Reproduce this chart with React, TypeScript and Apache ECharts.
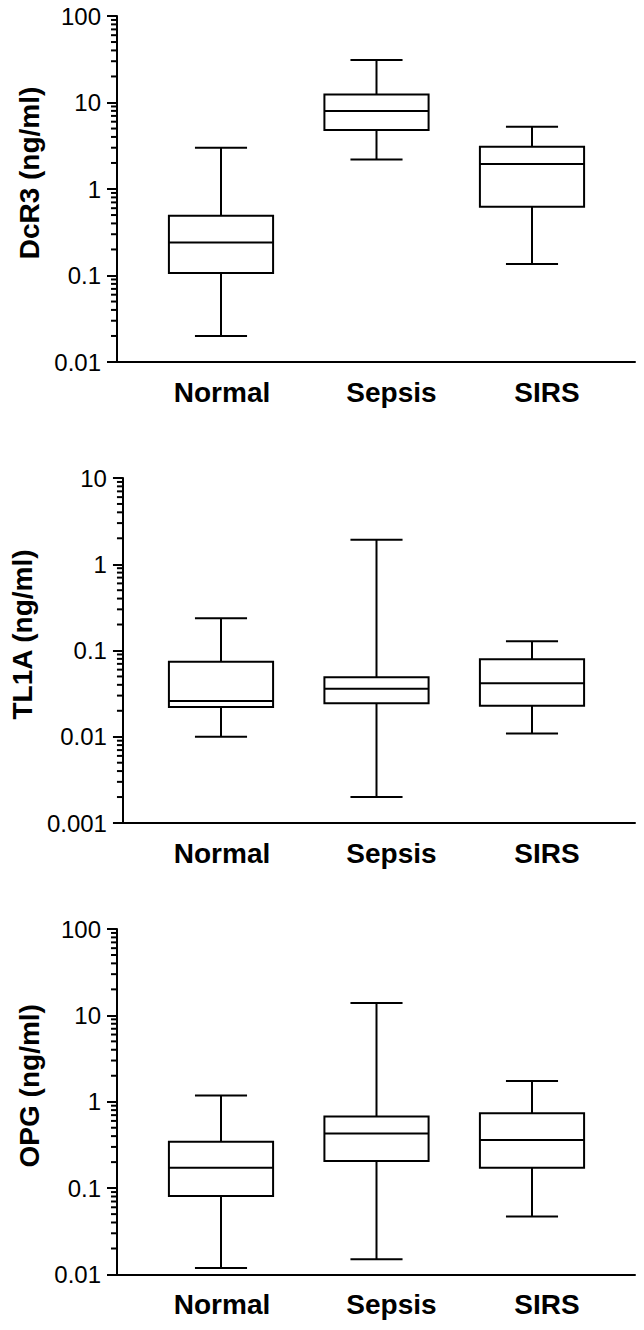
import React, { useEffect, useRef } from 'react';
import * as echarts from 'echarts';

// ---------------- data ----------------
const categories = ['Normal', 'Sepsis', 'SIRS'];

// box statistics: [min, Q1, median, Q3, max]  (ng/ml)
const dcr3Normal = [0.02, 0.107, 0.24, 0.49, 3.0];
const dcr3Sepsis = [2.2, 4.8, 8.0, 12.4, 31];
const dcr3Sirs = [0.136, 0.625, 1.95, 3.08, 5.25];

const tl1aNormal = [0.01, 0.0222, 0.026, 0.074, 0.237];
const tl1aSepsis = [0.002, 0.0244, 0.036, 0.049, 1.92];
const tl1aSirs = [0.0109, 0.0229, 0.0416, 0.079, 0.128];

const opgNormal = [0.0119, 0.081, 0.172, 0.345, 1.18];
const opgSepsis = [0.015, 0.206, 0.43, 0.673, 13.9];
const opgSirs = [0.047, 0.172, 0.36, 0.736, 1.74];

const dcr3Ticks = ['0.01', '0.1', '1', '10', '100'];
const tl1aTicks = ['0.001', '0.01', '0.1', '1', '10'];
const opgTicks = ['0.01', '0.1', '1', '10', '100'];

const titles = ['DcR3 (ng/ml)', 'TL1A (ng/ml)', 'OPG (ng/ml)'];

// ---------------- layout ----------------
const FONT = '"Liberation Sans", Arial, Helvetica, sans-serif';
const panelLayout = [
  { top: 16, height: 346, nameGap: 73 },
  { top: 478, height: 345, nameGap: 82 },
  { top: 929, height: 345.5, nameGap: 66 },
];
const AXIS_LEFT = 117;
const AXIS_WIDTH = 518;
const BOX_LEFT = 143.25;
const BOX_WIDTH_AREA = 466.5;
const labelShift = [1, 15, 15];

const panels = [
  { title: titles[0], ticks: dcr3Ticks, stats: [dcr3Normal, dcr3Sepsis, dcr3Sirs] },
  { title: titles[1], ticks: tl1aTicks, stats: [tl1aNormal, tl1aSepsis, tl1aSirs] },
  { title: titles[2], ticks: opgTicks, stats: [opgNormal, opgSepsis, opgSirs] },
];

function minorTickValues(ticks: string[]): number[] {
  const out: number[] = [];
  for (let k = 0; k < ticks.length - 1; k++) {
    const base = Number(ticks[k]);
    for (let m = 2; m <= 9; m++) out.push(Number((base * m).toPrecision(3)));
  }
  return out;
}

const lineStyle = { stroke: '#000', lineWidth: 2, fill: 'none' };

function boxRenderItem(params: any, api: any) {
  const x = api.value(0);
  const lo = api.coord([x, api.value(1)]);
  const q1 = api.coord([x, api.value(2)]);
  const med = api.coord([x, api.value(3)]);
  const q3 = api.coord([x, api.value(4)]);
  const hi = api.coord([x, api.value(5)]);
  const band = api.size([1, 0], [x, 1])[0];
  const bw = band * 0.67;
  const cw = band * 0.335;
  const cx = lo[0];
  return {
    type: 'group',
    children: [
      { type: 'line', shape: { x1: cx, y1: hi[1], x2: cx, y2: q3[1] }, style: lineStyle },
      { type: 'line', shape: { x1: cx, y1: q1[1], x2: cx, y2: lo[1] }, style: lineStyle },
      { type: 'line', shape: { x1: cx - cw / 2, y1: hi[1], x2: cx + cw / 2, y2: hi[1] }, style: lineStyle },
      { type: 'line', shape: { x1: cx - cw / 2, y1: lo[1], x2: cx + cw / 2, y2: lo[1] }, style: lineStyle },
      {
        type: 'rect',
        shape: { x: cx - bw / 2, y: q3[1], width: bw, height: q1[1] - q3[1] },
        style: { stroke: '#000', lineWidth: 2, fill: '#fff' },
      },
      { type: 'line', shape: { x1: cx - bw / 2, y1: med[1], x2: cx + bw / 2, y2: med[1] }, style: lineStyle },
    ],
  };
}

function minorRenderItem(params: any, api: any) {
  const p = api.coord([0, api.value(1)]);
  return {
    type: 'line',
    shape: { x1: p[0] - 6, y1: p[1], x2: p[0], y2: p[1] },
    style: { stroke: '#000', lineWidth: 2 },
  };
}

function buildOption() {
  const grid: any[] = [];
  const xAxis: any[] = [];
  const yAxis: any[] = [];
  const series: any[] = [];
  const rich: any = {};
  labelShift.forEach((s, i) => {
    rich['c' + i] = {
      fontSize: 28,
      fontWeight: 'bold',
      color: '#000',
      fontFamily: FONT,
      padding: [0, 0, 0, s * 2],
    };
  });

  panels.forEach((p, i) => {
    const L = panelLayout[i];
    const yMin = Number(p.ticks[0]);
    const yMax = Number(p.ticks[p.ticks.length - 1]);
    const ga = 2 * i;
    const gb = 2 * i + 1;
    grid.push({ left: AXIS_LEFT, top: L.top, width: AXIS_WIDTH, height: L.height });
    grid.push({ left: BOX_LEFT, top: L.top, width: BOX_WIDTH_AREA, height: L.height });

    xAxis.push({
      type: 'value',
      gridIndex: ga,
      min: 0,
      max: 1,
      axisLine: { show: true, onZero: false, lineStyle: { color: '#000', width: 2 } },
      axisTick: { show: false },
      axisLabel: { show: false },
      splitLine: { show: false },
    });
    xAxis.push({
      type: 'category',
      gridIndex: gb,
      data: categories,
      axisLine: { show: false, onZero: false },
      axisTick: { show: false },
      splitLine: { show: false },
      axisLabel: {
        interval: 0,
        hideOverlap: false,
        margin: 16,
        fontSize: 28,
        fontWeight: 'bold',
        color: '#000',
        fontFamily: FONT,
        formatter: (v: string, idx: number) => `{c${idx}|${v}}`,
        rich,
      },
    });

    yAxis.push({
      type: 'log',
      logBase: 10,
      gridIndex: ga,
      min: yMin,
      max: yMax,
      name: p.title,
      nameLocation: 'middle',
      nameGap: L.nameGap,
      nameRotate: 90,
      nameTextStyle: {
        fontSize: 28,
        fontWeight: 'bold',
        color: '#000',
        fontFamily: FONT,
        padding: [0, 0, 0, 32],
      },
      axisLine: { show: true, onZero: false, lineStyle: { color: '#000', width: 2 } },
      axisTick: { show: true, length: 10, lineStyle: { color: '#000', width: 2 } },
      axisLabel: {
        fontSize: 24,
        color: '#000',
        fontFamily: FONT,
        margin: 16,
        formatter: (v: number) => {
          const idx = p.ticks.findIndex((t) => Math.abs(Math.log10(Number(t)) - Math.log10(v)) < 1e-6);
          return idx >= 0 ? p.ticks[idx] : '';
        },
      },
      splitLine: { show: false },
      minorTick: { show: false },
    });
    yAxis.push({
      type: 'log',
      logBase: 10,
      gridIndex: gb,
      min: yMin,
      max: yMax,
      show: false,
    });

    series.push({
      type: 'custom',
      xAxisIndex: ga,
      yAxisIndex: ga,
      clip: false,
      silent: true,
      renderItem: minorRenderItem,
      encode: { x: 0, y: 1 },
      data: minorTickValues(p.ticks).map((v) => [0, v]),
    });
    series.push({
      type: 'custom',
      name: p.title,
      xAxisIndex: gb,
      yAxisIndex: gb,
      clip: false,
      renderItem: boxRenderItem,
      encode: { x: 0, y: [1, 2, 3, 4, 5] },
      data: p.stats.map((s, j) => [j, ...s]),
    });
  });

  return {
    animation: false,
    backgroundColor: '#fff',
    grid,
    xAxis,
    yAxis,
    series,
  };
}

export default function App() {
  const ref = useRef<HTMLDivElement>(null);
  useEffect(() => {
    if (!ref.current) return;
    const chart = echarts.init(ref.current, undefined, { renderer: 'svg' });
    chart.setOption(buildOption() as any);
    return () => chart.dispose();
  }, []);
  return (
    <div
      ref={ref}
      style={{ position: 'absolute', left: 0, top: 0, width: 644, height: 1330, background: '#fff' }}
    />
  );
}
